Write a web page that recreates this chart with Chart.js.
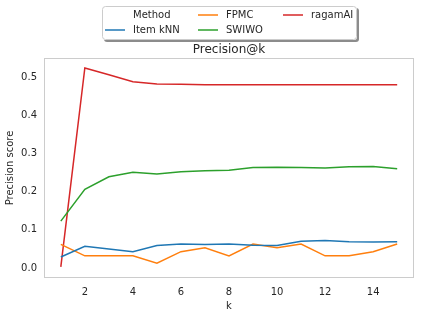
<!DOCTYPE html>
<html>
<head>
<meta charset="utf-8">
<script src="https://cdn.jsdelivr.net/npm/chart.js@4/dist/chart.umd.min.js"></script>
<style>
  body { margin: 0; background: #fff; }
  #wrap { width: 424px; height: 316px; }
</style>
</head>
<body>
<div id="wrap"><canvas id="chart" width="424" height="316"></canvas></div>
<script>
// Precision@k per method
const kValues = [1, 2, 3, 4, 5, 6, 7, 8, 9, 10, 11, 12, 13, 14, 15];
const itemKnn = [0.029, 0.057, 0.050, 0.043, 0.059, 0.063, 0.062, 0.063, 0.060, 0.059, 0.070, 0.072, 0.069, 0.068, 0.069];
const fpmc = [0.062, 0.032, 0.032, 0.032, 0.013, 0.043, 0.053, 0.032, 0.063, 0.053, 0.063, 0.032, 0.032, 0.043, 0.063];
const swiwo = [0.123, 0.206, 0.239, 0.251, 0.246, 0.252, 0.255, 0.256, 0.263, 0.264, 0.263, 0.262, 0.265, 0.266, 0.260];
const ragamAI = [0.003, 0.524, 0.506, 0.488, 0.482, 0.481, 0.480, 0.480, 0.480, 0.480, 0.480, 0.480, 0.480, 0.480, 0.480];
const xTicks = [2, 4, 6, 8, 10, 12, 14];
const yTicks = [0.0, 0.1, 0.2, 0.3, 0.4, 0.5];

const methods = ['Item kNN', 'FPMC', 'SWIWO', 'ragamAI'];
const colors = ['#1f77b4', '#ff7f0e', '#2ca02c', '#d62728'];
const series = [itemKnn, fpmc, swiwo, ragamAI];

const FONT = "'DejaVu Sans', sans-serif";
const TEXT = '#262626';

// title, boxed legend and the frame round the plot
const decor = {
  id: 'decor',
  afterDraw(chart) {
    const c = chart.ctx;
    const a = chart.chartArea;
    c.save();
    c.strokeStyle = '#cccccc';
    c.lineWidth = 1;
    c.strokeRect(a.left + 0.5, a.top + 0.5, a.right - a.left - 1, a.bottom - a.top - 1);

    c.fillStyle = TEXT;
    c.font = '12px ' + FONT;
    c.textAlign = 'center';
    c.textBaseline = 'middle';
    c.fillText('Precision@k', (a.left + a.right) / 2, 50);

    // legend box with shadow
    const bx = 102, by = 6, bw = 255, bh = 34;
    c.fillStyle = 'rgba(0,0,0,0.45)';
    roundRect(c, bx + 2, by + 2, bw, bh, 3); c.fill();
    c.fillStyle = '#fff';
    roundRect(c, bx, by, bw, bh, 3); c.fill();
    c.strokeStyle = '#cccccc';
    roundRect(c, bx + 0.5, by + 0.5, bw - 1, bh - 1, 3); c.stroke();

    const entries = [{ label: 'Method', color: null }].concat(
      methods.map((m, i) => ({ label: m, color: colors[i] })));
    const colX = [105, 198, 283];
    const rowY = [15, 30];
    c.font = '10px ' + FONT;
    c.textAlign = 'left';
    entries.forEach((e, i) => {
      const col = Math.floor(i / 2), row = i % 2;
      const x = colX[col], y = rowY[row];
      if (e.color) {
        c.strokeStyle = e.color;
        c.lineWidth = 1.5;
        c.beginPath(); c.moveTo(x, y); c.lineTo(x + 20, y); c.stroke();
      }
      c.fillStyle = TEXT;
      c.fillText(e.label, x + 28, y);
    });
    c.restore();
  }
};

function roundRect(c, x, y, w, h, r) {
  c.beginPath();
  c.moveTo(x + r, y);
  c.arcTo(x + w, y, x + w, y + h, r);
  c.arcTo(x + w, y + h, x, y + h, r);
  c.arcTo(x, y + h, x, y, r);
  c.arcTo(x, y, x + w, y, r);
  c.closePath();
}

new Chart(document.getElementById('chart'), {
  type: 'line',
  data: {
    datasets: methods.map((m, i) => ({
      label: m,
      data: kValues.map((k, j) => ({ x: k, y: series[i][j] })),
      borderColor: colors[i],
      borderWidth: 1.5,
      pointRadius: 0,
      fill: false,
      tension: 0
    }))
  },
  options: {
    responsive: false,
    animation: false,
    devicePixelRatio: 1,
    layout: { padding: { top: 58, right: 10, left: 0, bottom: 0 } },
    plugins: { legend: { display: false }, tooltip: { enabled: false } },
    scales: {
      x: {
        type: 'linear',
        min: 0.3,
        max: 15.7,
        afterFit: s => { s.height = 38; },
        afterBuildTicks: s => { s.ticks = xTicks.map(v => ({ value: v })); },
        grid: { display: false, drawTicks: false },
        border: { display: false },
        ticks: { color: TEXT, font: { family: FONT, size: 10 }, padding: 8 },
        title: { display: true, text: 'k', color: TEXT, font: { family: FONT, size: 10 }, padding: { top: 4, bottom: 4 } }
      },
      y: {
        min: -0.026,
        max: 0.55,
        afterFit: s => { s.width = 44; },
        afterBuildTicks: s => { s.ticks = yTicks.map(v => ({ value: v })); },
        grid: { display: false, drawTicks: false },
        border: { display: false },
        ticks: { color: TEXT, font: { family: FONT, size: 10 }, padding: 7, callback: v => v.toFixed(1) },
        title: { display: true, text: 'Precision score', color: TEXT, font: { family: FONT, size: 10 }, padding: { top: 4, bottom: 4 } }
      }
    }
  },
  plugins: [decor]
});
</script>
</body>
</html>
